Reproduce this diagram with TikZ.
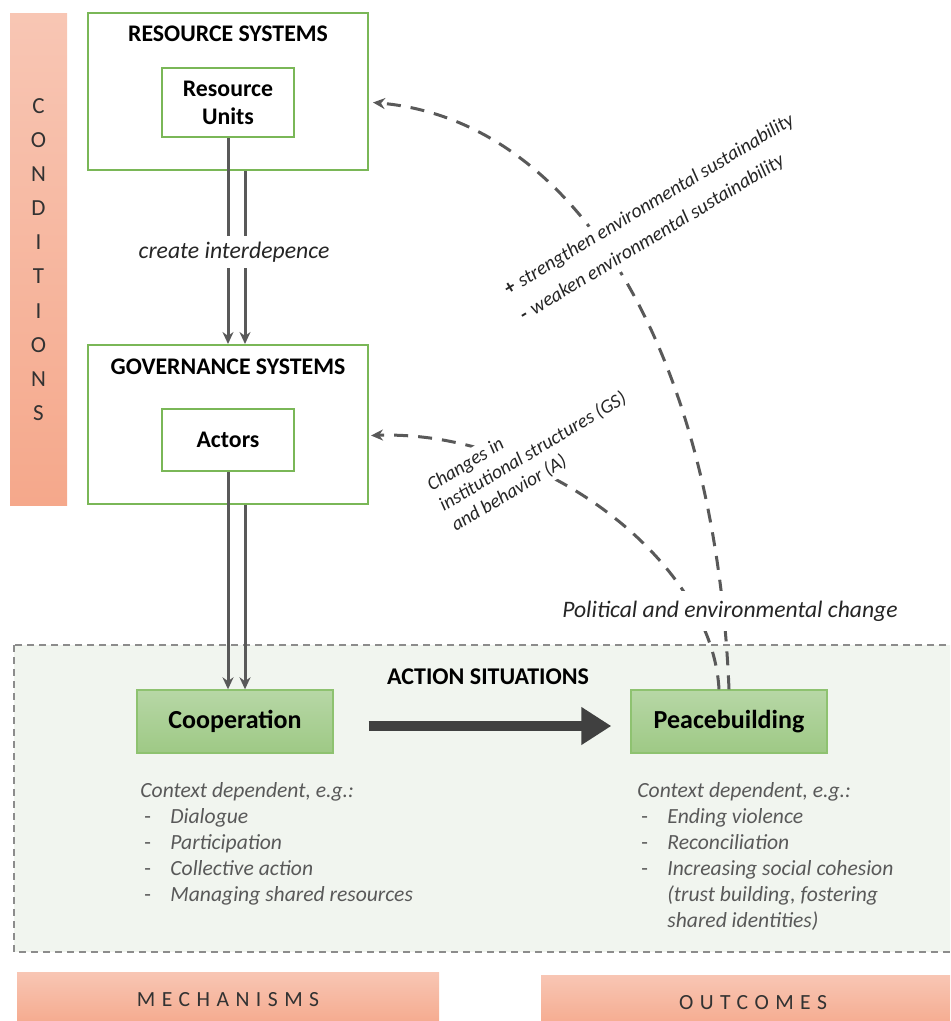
\documentclass[tikz,border=0pt]{standalone}
\usepackage{fontspec}
\setmainfont{Carlito}
\usetikzlibrary{arrows.meta, positioning, calc}
\definecolor{boxgreen}{RGB}{122,183,87}
\definecolor{linkgrey}{RGB}{89,89,89}
\definecolor{arrowgrey}{RGB}{64,64,64}
\definecolor{bandtext}{RGB}{50,50,50}
\definecolor{actionfill}{RGB}{241,245,239}
\definecolor{salmontop}{RGB}{248,198,180}
\definecolor{salmonbot}{RGB}{245,168,139}
\definecolor{greentop}{RGB}{183,215,166}
\definecolor{greenbot}{RGB}{158,201,133}
\newcommand*{\spaced}[1]{{\addfontfeature{LetterSpace=30}#1}}

\begin{document}
\begin{tikzpicture}[x=0.5pt,y=-0.5pt,on grid,>={Stealth[length=6pt,width=5.5pt]},
      font=\fontsize{11.9}{14}\selectfont,
      system/.style={draw=boxgreen,line width=1pt,minimum width=140pt,inner sep=0pt},
      unit/.style={draw=boxgreen,line width=1pt,minimum width=66pt,inner sep=0pt,align=center,font=\fontsize{11.9}{14}\selectfont\bfseries},
      title/.style={font=\fontsize{11.9}{14}\selectfont\bfseries},
      situation/.style={draw=boxgreen!85,line width=0.7pt,top color=greentop,bottom color=greenbot,
        minimum width=98pt,minimum height=31.5pt,font=\fontsize{13}{15}\selectfont\bfseries},
      band/.style={top color=salmontop,bottom color=salmonbot,text=bandtext,inner sep=0pt},
      link/.style={draw=linkgrey,line width=1.5pt,->},
      feedback/.style={draw=linkgrey,line width=1.5pt,dash pattern=on 7pt off 5pt,->},
      note/.style={fill=white,inner sep=2pt,text=black!85},
      listing/.style={anchor=base west,inner sep=0pt,text=linkgrey,font=\fontsize{10.8}{13}\selectfont\itshape}]
      \useasboundingbox (0,0) rectangle (950,1021);
      \clip (0,0) rectangle (950,1021);
      % action situations area
      \draw[draw=black!45,line width=0.6pt,dash pattern=on 3.5pt off 2.5pt,fill=actionfill] (14,645) rectangle (965,952);
      % side and bottom bands
      \node[band,minimum width=28.5pt,minimum height=245.5pt,align=center,font=\fontsize{11.5}{17.05}\selectfont]
        (conditions) at (38.5,259.5) {C\\O\\N\\D\\I\\T\\I\\O\\N\\S};
      \node[band,minimum width=211pt,minimum height=28pt,font=\fontsize{10.8}{13}\selectfont] (mechanisms) at (228,1000) {\spaced{MECHANISMS}};
      \node[band,minimum width=212pt,minimum height=28pt,font=\fontsize{10.8}{13}\selectfont] (outcomes) at (753,1003) {\spaced{OUTCOMES}};
      % systems
      \node[system,minimum height=78.5pt] (rs) at (228,91.5) {};
      \node[title] (rstitle) at ($(rs.north)+(0,22)$) {RESOURCE SYSTEMS};
      \node[unit,minimum height=34.5pt] (ru) at ($(rs.north)+(0,90.5)$) {Resource\\Units};
      \node[system,minimum height=79.5pt] (gs) at (228,424.5) {};
      \node[title] (gstitle) at ($(gs.north)+(0,23)$) {GOVERNANCE SYSTEMS};
      \node[unit,minimum height=31pt] (actors) at ($(gs.north)+(0,96)$) {Actors};
      % action situations
      \node[title,font=\fontsize{12}{14}\selectfont\bfseries] (astitle) at (488,677) {ACTION SITUATIONS};
      \node[situation] (coop) at (235,721.5) {Cooperation};
      \node[situation,right=247pt of coop] (peace) {Peacebuilding};
      % links
      \draw[link] (ru.south) -- (ru.south |- gs.north);
      \draw[link] ($(ru.south |- rs.south)+(17,0)$) -- ($(ru.south |- gs.north)+(17,0)$);
      \node[note,inner ysep=3pt,font=\fontsize{11.85}{14}\selectfont\itshape] (interdep) at (234,252) {create interdepence};
      \draw[link] (actors.south) -- (actors.south |- coop.north);
      \draw[link] ($(actors.south |- gs.south)+(17,0)$) -- ($(actors.south |- coop.north)+(17,0)$);
      \draw[arrowgrey,line width=5pt,-{Triangle[length=15pt,width=18pt]},shorten <=17.5pt,shorten >=9.5pt]
        ($(coop.east)+(0,4.5)$) -- ($(peace.west)+(0,4.5)$);
      % feedback loops
      \draw[feedback] (peace.north) .. controls (715,350) and (575,120) .. ($(rs.east |- ru.center)+(4,0)$);
      \draw[feedback] ($(peace.north)+(-10,0)$) .. controls (712,560) and (540,430) .. ($(gs.east)+(2,11)$);
      \node[note,rotate=31,align=left,font=\fontsize{9.9}{15}\selectfont\itshape] (sustain) at (657,218)
        {\textbf{\upshape+}\hspace{3pt}strengthen environmental sustainability\\\textbf{\upshape-}\hspace{3pt}weaken environmental sustainability};
      \node[note,rotate=31,align=left,font=\fontsize{9.7}{11.75}\selectfont\itshape] (changes) at (533,452)
        {Changes in\\institutional structures (GS)\\and behavior (A)};
      \node[note,inner ysep=5pt,font=\fontsize{11.8}{14}\selectfont\itshape] (polchange) at (730,611) {Political and environmental change};
      % examples
      \node[listing] (coopnotes) at (140,797) {\begin{tabular}[t]{@{}p{15pt}@{}l@{}}
        \multicolumn{2}{@{}l@{}}{Context dependent, e.g.:}\\
        \hspace{2pt}\upshape- & Dialogue\\
        \hspace{2pt}\upshape- & Participation\\
        \hspace{2pt}\upshape- & Collective action\\
        \hspace{2pt}\upshape- & Managing shared resources
        \end{tabular}};
      \node[listing] (peacenotes) at (637,797) {\begin{tabular}[t]{@{}p{15pt}@{}l@{}}
        \multicolumn{2}{@{}l@{}}{Context dependent, e.g.:}\\
        \hspace{2pt}\upshape- & Ending violence\\
        \hspace{2pt}\upshape- & Reconciliation\\
        \hspace{2pt}\upshape- & Increasing social cohesion\\
         & (trust building, fostering\\
         & shared identities)
        \end{tabular}};
    \end{tikzpicture}
\end{document}
